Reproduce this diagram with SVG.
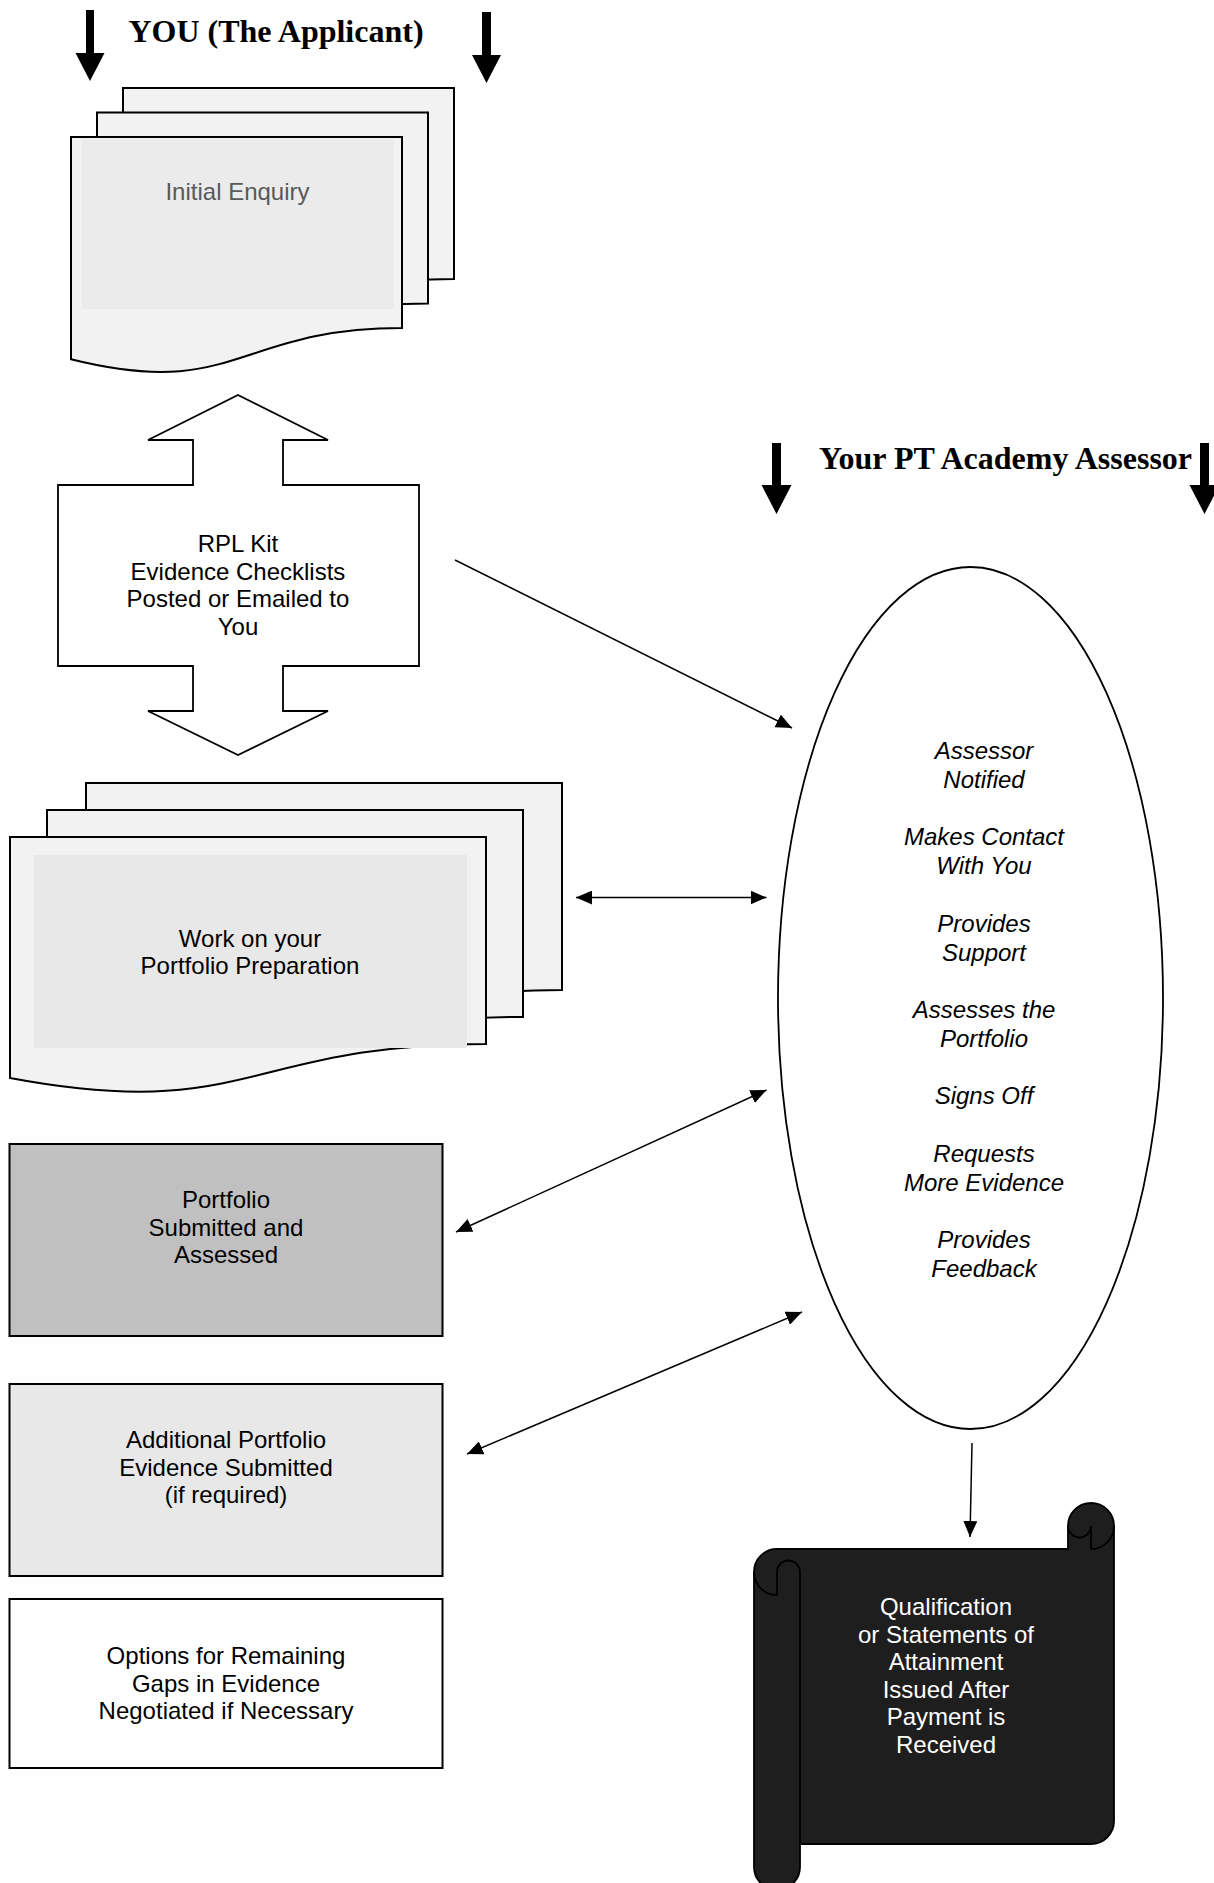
<svg xmlns="http://www.w3.org/2000/svg" width="1214" height="1883" viewBox="0 0 1214 1883">
<style>
.t{font-family:"Liberation Sans",Arial,sans-serif;font-size:24px;text-anchor:middle;fill:#000}
.ti{font-style:italic}
.w{fill:#fff}
.h{font-family:"Liberation Serif","Times New Roman",serif;font-weight:bold;font-size:32px;text-anchor:middle;fill:#000}
.page{fill:#f2f2f2;stroke:#000;stroke-width:2;stroke-linejoin:miter}
.box{stroke:#000;stroke-width:2}
.big{fill:#000}
.conn line{stroke:#000;stroke-width:1.5;fill:none}
</style>
<defs>
<marker id="ah" viewBox="0 0 16 14" refX="16" refY="7" markerWidth="16" markerHeight="14" markerUnits="userSpaceOnUse" orient="auto-start-reverse">
<path d="M0,0 L16,7 L0,14 z" fill="#000"/>
</marker>
</defs>
<rect width="1214" height="1883" fill="#fff"/>

<g id="header-applicant">
<polygon class="big" points="86,10 94,10 94,53 104.5,53 90,81 75.5,53 86,53"/>
<polygon class="big" points="482,12 491,12 491,55 501,55 486.5,83 472,55 482,55"/>
<text class="h" x="276" y="42">YOU (The Applicant)</text>
</g>

<g id="header-assessor">
<polygon class="big" points="772,443 781,443 781,485 791.5,485 776.5,514 761.5,485 772,485"/>
<polygon class="big" points="1200,443 1209,443 1209,485 1219.5,485 1204.5,514 1189.5,485 1200,485"/>
<text class="h" x="1005.5" y="469">Your PT Academy Assessor</text>
</g>

<g id="initial-enquiry">
<path class="page" d="M123,88 H454 V278.9 C288.5,278.9 288.5,351.6 123,310.3 Z"/>
<path class="page" d="M97,112.5 H428 V303.4 C262.5,303.4 262.5,376.1 97,334.8 Z"/>
<path class="page" d="M71,137 H402 V328 C236.5,328 236.5,400.6 71,359.3 Z"/>
<rect x="82" y="139" width="312" height="170" fill="#ebebeb"/>
<text class="t" x="237.5" y="200" fill="#595959" style="fill:#595959">Initial Enquiry</text>
</g>

<g id="rpl-kit">
<polygon points="238,395 328,440 283,440 283,485 419,485 419,666 283,666 283,711 328,711 238,755 148,711 193,711 193,666 58,666 58,485 193,485 193,440 148,440" fill="#fff" stroke="#000" stroke-width="1.8"/>
<text class="t" x="238" y="552">RPL Kit</text>
<text class="t" x="238" y="579.6">Evidence Checklists</text>
<text class="t" x="238" y="607.2">Posted or Emailed to</text>
<text class="t" x="238" y="634.8">You</text>
</g>

<g id="portfolio-preparation">
<path class="page" d="M86,783 H562 V989.9 C324,989.9 324,1068.7 86,1024 Z"/>
<path class="page" d="M47,810 H523 V1016.9 C285,1016.9 285,1095.7 47,1051 Z"/>
<path class="page" d="M10,837 H486 V1043.9 C248,1043.9 248,1122.7 10,1078 Z"/>
<rect x="34" y="855" width="433" height="193" fill="#e8e8e8"/>
<text class="t" x="250" y="946.5">Work on your</text>
<text class="t" x="250" y="974.1">Portfolio Preparation</text>
</g>

<g id="portfolio-submitted">
<rect class="box" x="9.5" y="1144" width="433" height="192" fill="#c0c0c0"/>
<text class="t" x="226" y="1208">Portfolio</text>
<text class="t" x="226" y="1235.6">Submitted and</text>
<text class="t" x="226" y="1263.2">Assessed</text>
</g>

<g id="additional-evidence">
<rect class="box" x="9.5" y="1384" width="433" height="192" fill="#e8e8e8"/>
<text class="t" x="226" y="1448">Additional Portfolio</text>
<text class="t" x="226" y="1475.6">Evidence Submitted</text>
<text class="t" x="226" y="1503.2">(if required)</text>
</g>

<g id="options-gaps">
<rect class="box" x="9.5" y="1599" width="433" height="169" fill="#fff"/>
<text class="t" x="226" y="1664">Options for Remaining</text>
<text class="t" x="226" y="1691.6">Gaps in Evidence</text>
<text class="t" x="226" y="1719.2">Negotiated if Necessary</text>
</g>

<g id="assessor-activities">
<ellipse cx="970.5" cy="998" rx="192.5" ry="431" fill="#fff" stroke="#000" stroke-width="1.8"/>
<text class="t ti" x="984" y="759">Assessor</text>
<text class="t ti" x="984" y="787.8">Notified</text>
<text class="t ti" x="984" y="845.3">Makes Contact</text>
<text class="t ti" x="984" y="874.1">With You</text>
<text class="t ti" x="984" y="931.7">Provides</text>
<text class="t ti" x="984" y="960.5">Support</text>
<text class="t ti" x="984" y="1018">Assesses the</text>
<text class="t ti" x="984" y="1046.8">Portfolio</text>
<text class="t ti" x="984" y="1104.4">Signs Off</text>
<text class="t ti" x="984" y="1162">Requests</text>
<text class="t ti" x="984" y="1190.7">More Evidence</text>
<text class="t ti" x="984" y="1248.3">Provides</text>
<text class="t ti" x="984" y="1277">Feedback</text>
</g>

<g id="qualification-issued">
<path d="M777,1549 H1068 V1526 A23,23 0 0 1 1114,1526 V1821 A23,23 0 0 1 1091,1844 H800 V1867 A23,23 0 0 1 754,1867 V1572 A23,23 0 0 1 777,1549 Z" fill="#1e1e1e" stroke="#000" stroke-width="1.8"/>
<path d="M754,1572 A23,23 0 0 0 777,1595 V1572 A11.5,11.5 0 0 1 800,1572 V1844" fill="none" stroke="#000" stroke-width="1.8"/>
<path d="M1091,1549 V1526 A11.5,11.5 0 0 1 1068,1526 M1091,1549 A23,23 0 0 0 1114,1526" fill="none" stroke="#000" stroke-width="1.8"/>
<text class="t w" x="946" y="1615">Qualification</text>
<text class="t w" x="946" y="1642.6">or Statements of</text>
<text class="t w" x="946" y="1670.2">Attainment</text>
<text class="t w" x="946" y="1697.8">Issued After</text>
<text class="t w" x="946" y="1725.4">Payment is</text>
<text class="t w" x="946" y="1753">Received</text>
</g>

<g id="connectors" class="conn">
<line x1="455" y1="560" x2="792" y2="728" marker-end="url(#ah)"/>
<line x1="576" y1="897.5" x2="766.5" y2="897.5" marker-start="url(#ah)" marker-end="url(#ah)"/>
<line x1="456" y1="1232" x2="766.5" y2="1090" marker-start="url(#ah)" marker-end="url(#ah)"/>
<line x1="467" y1="1454" x2="802" y2="1312" marker-start="url(#ah)" marker-end="url(#ah)"/>
<line x1="972" y1="1443" x2="970" y2="1537" marker-end="url(#ah)"/>
</g>
</svg>
